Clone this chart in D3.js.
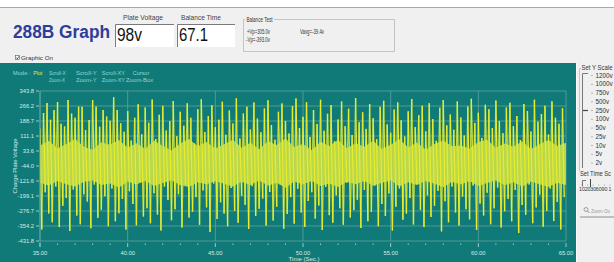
<!DOCTYPE html>
<html><head><meta charset="utf-8">
<script src="https://cdn.jsdelivr.net/npm/d3@7"></script>
<style>
html,body{margin:0;padding:0;overflow:hidden;background:#fff}
svg{display:block;font-family:"Liberation Sans",Arial,sans-serif}
</style>
</head><body>
<svg id="c" width="614" height="262"></svg>
<script>
// ---------- data ----------
const highs = [150,230,282,195,246,287,175,160,297,228,
205,263,262,142,194,297,263,159,246,212,
190,311,246,177,133,240,88,205,275,120,
258,180,300,96,221,268,140,187,292,110,
236,164,281,205,72,249,301,132,214,270,
156,195,288,118,243,176,306,98,228,262,
145,284,201,130,253,296,168,92,237,279,
188,124,266,305,152,210,286,106,245,173,
299,138,226,271,84,197,290,161,252,116,
308,182,234,148,276,203,94,262,293,171,
128,248,285,192,109,239,302,157,219,268,
136,280,199,87,257,297,166,222,143,289,
207,114,264,304,178,231,101,273,250,153,
295,189,126,259,283,162,215,90,277,240,
134,298,185,225,268,119,291,206,174,255];
const lows = [-372,-180,-290,-335,-150,-360,-250,-210,-380,-165,
-300,-345,-190,-228,-366,-140,-312,-270,-200,-355,
-160,-330,-288,-215,-372,-175,-240,-350,-130,-305,
-262,-340,-185,-295,-378,-150,-220,-325,-268,-190,
-362,-142,-310,-280,-205,-348,-170,-258,-385,-135,
-318,-232,-290,-355,-158,-275,-338,-198,-245,-370,
-148,-302,-265,-212,-352,-178,-326,-255,-140,-368,
-292,-205,-342,-162,-285,-360,-225,-180,-315,-248,
-375,-152,-298,-338,-195,-262,-348,-130,-310,-272,
-218,-365,-168,-330,-280,-145,-356,-240,-302,-186,
-378,-255,-160,-322,-290,-210,-346,-138,-272,-360,
-195,-308,-250,-172,-382,-226,-335,-150,-285,-352,
-202,-268,-320,-145,-375,-238,-300,-182,-345,-262,
-155,-362,-278,-214,-330,-168,-390,-246,-296,-140,
-340,-258,-192,-358,-276,-160,-328,-230,-372,-205];
const startTime = 35, cycle = 0.2;
// dense oscillation band (envelope every 0.5 s)
const bandTop = [62,85,48,70,95,55,40,78,66,90,52,74,44,88,60,36,72,96,58,80,46,68,92,50,76,42,84,64,98,54,70,38,82,60,90,48,74,56,86,44,66,94,52,78,40,70,88,58,62,46,80,92,50,72,56,84,44,68,90,60,76];
const bandBottom = [-130,-145,-122,-138,-150,-126,-118,-142,-134,-155,-124,-140,-120,-148,-132,-116,-144,-152,-128,-138,-122,-136,-150,-126,-142,-118,-146,-130,-156,-124,-140,-120,-148,-134,-152,-126,-138,-122,-146,-130,-118,-150,-128,-142,-120,-136,-154,-126,-140,-122,-148,-132,-118,-144,-128,-150,-124,-138,-152,-130,-142];
const bandStep = 0.5;
const yTicks = [343.8,266.2,188.7,111.1,33.6,-44.0,-121.6,-199.1,-276.7,-354.2,-431.8];
const xMajor = [35,40,45,50,55,60,65];
const xMinor = [36,37,38,39,41,42,43,44,46,47,48,49,51,52,53,54,56,57,58,59,61,62,63,64];
const modeTop = ["Scroll-X","Scroll-Y","Scroll-XY","Cursor"];
const modeBottom = ["Zoom-X","Zoom-Y","Zoom-XY","Zoom-Box"];
const yScaleLabels = ["1200v","1000v","750v","500v","250v","100v","50v","25v","10v","5v","2v"];
const timeScaleLabels = ["10","20","30","60","90","1"];

// ---------- drawing ----------
const svg = d3.select("#c");
const TEAL = "#0f7a77";

svg.append("rect").attr("x",0).attr("y",0).attr("width",614).attr("height",262).attr("fill","#fff");
svg.append("rect").attr("x",0).attr("y",8).attr("width",614).attr("height",55).attr("fill","#f0f0f0");
svg.append("line").attr("x1",0).attr("x2",614).attr("y1",7.5).attr("y2",7.5).attr("stroke","#a8a8a8");

function txt(g, s, x, y, size, opts={}) {
  const t = g.append("text").attr("x",x).attr("y",y).attr("font-size",size).text(s)
    .attr("fill",opts.fill||"#333");
  if (opts.weight) t.attr("font-weight",opts.weight);
  if (opts.anchor) t.attr("text-anchor",opts.anchor);
  if (opts.len) t.attr("textLength",opts.len).attr("lengthAdjust","spacingAndGlyphs");
  return t;
}

txt(svg,"288B Graph",13,37.5,17.5,{fill:"#2d3d9a",weight:"bold",len:97});
txt(svg,"Plate Voltage",123,19.5,8,{fill:"#444",len:40});
txt(svg,"Balance Time",181,19.5,8,{fill:"#444",len:40});

function box(x,y,w,h){
  svg.append("rect").attr("x",x).attr("y",y).attr("width",w).attr("height",h).attr("fill","#fff");
  svg.append("path").attr("d",`M${x+0.5},${y+h} V${y+0.5} H${x+w}`).attr("stroke","#7a7a7a").attr("fill","none");
}
box(115,24,59,23);
box(177,24,58,23);
txt(svg,"98v",117,41,18,{fill:"#111",len:25});
txt(svg,"67.1",179,41,18,{fill:"#111",len:29});

svg.append("rect").attr("x",243.5).attr("y",19.5).attr("width",151).attr("height",32).attr("fill","none").attr("stroke","#c4c4c4");
svg.append("rect").attr("x",245).attr("y",16).attr("width",29).attr("height",7).attr("fill","#f0f0f0");
txt(svg,"Balance Test",246.5,21.5,6.8,{fill:"#333",len:26});
txt(svg,"+Vp=305.0v",247,34,6.3,{fill:"#333",len:23});
txt(svg,"-Vp=-393.0v",246,41.5,6.3,{fill:"#333",len:24});
txt(svg,"Vavg=-39.4v",300,34,6.3,{fill:"#333",len:24});

svg.append("rect").attr("x",15.5).attr("y",55.5).attr("width",4).attr("height",4).attr("fill","#fff").attr("stroke","#555").attr("stroke-width",0.6);
svg.append("path").attr("d","M16.2,57.5 L17.3,58.8 L19,56.3").attr("stroke","#222").attr("stroke-width",0.7).attr("fill","none");
txt(svg,"Graphic On",21,60,6,{fill:"#333",len:32});

svg.append("rect").attr("x",0).attr("y",63).attr("width",576).attr("height",199).attr("fill",TEAL);

txt(svg,"Mode :",12.7,75,6,{fill:"#8fd8d4",len:18});
txt(svg,"Plot",33.3,75,6,{fill:"#e8e83a",len:9});
const modeX = [49,76,101.7,132.7];
const modeW = [16.7,20.7,23.3,16.6];
modeTop.forEach((s,i)=>txt(svg,s,modeX[i],75,6,{fill:"#8fd8d4",len:modeW[i]}));
const modeX2 = [49,76,101.7,126];
const modeW2 = [16,20.7,23.3,27.3];
modeBottom.forEach((s,i)=>txt(svg,s,modeX2[i],81.5,6,{fill:"#8fd8d4",len:modeW2[i]}));

const x = d3.scaleLinear().domain([35,65]).range([40,566]);
const y = d3.scaleLinear().domain([-431.8,343.8]).range([241,91]);

const grid = svg.append("g");
grid.selectAll("line.h").data(yTicks).join("line").attr("class","h")
  .attr("x1",40).attr("x2",566).attr("y1",d=>y(d)).attr("y2",d=>y(d))
  .attr("stroke","#5fa3a0").attr("stroke-width",0.8);
grid.selectAll("line.v").data(xMajor).join("line").attr("class","v")
  .attr("x1",d=>x(d)).attr("x2",d=>x(d)).attr("y1",91).attr("y2",241)
  .attr("stroke","#5fa3a0").attr("stroke-width",0.8);

svg.append("clipPath").attr("id","pc").append("rect").attr("x",40).attr("y",88).attr("width",526).attr("height",154);
const dg = svg.append("g").attr("clip-path","url(#pc)");
const area = d3.area().x((d,i)=>x(startTime+i*bandStep)).y0((d,i)=>y(bandBottom[i])).y1(d=>y(d));
dg.append("path").datum(bandTop).attr("d",area).attr("fill","#c9de48").attr("opacity",0.9);
const down = highs.map((h,k)=>[[startTime+k*cycle,h],[startTime+k*cycle+cycle/2,lows[k]]]);
const up = lows.slice(0,-1).map((l,k)=>[[startTime+k*cycle+cycle/2,l],[startTime+(k+1)*cycle,highs[k+1]]]);
const line = d3.line().x(d=>x(d[0])).y(d=>y(d[1]));
dg.selectAll("path.u").data(up).join("path").attr("class","u").attr("d",line)
  .attr("stroke","#bcd94e").attr("stroke-width",1.3).attr("fill","none");
dg.selectAll("path.d").data(down).join("path").attr("class","d").attr("d",line)
  .attr("stroke","#e6ec2e").attr("stroke-width",1.3).attr("fill","none");

const ax = svg.append("g");
ax.selectAll("text.yl").data(yTicks).join("text").attr("class","yl")
  .attr("x",34).attr("y",d=>y(d)+2).attr("text-anchor","end").attr("font-size",5.8)
  .attr("fill","#d6ecea").text(d=>d.toFixed(1));
ax.selectAll("line.yt").data(yTicks).join("line").attr("class","yt")
  .attr("x1",36).attr("x2",39).attr("y1",d=>y(d)).attr("y2",d=>y(d)).attr("stroke","#d6ecea").attr("stroke-width",0.7);
ax.append("line").attr("x1",40).attr("x2",40).attr("y1",91).attr("y2",247).attr("stroke","#6aa9a6").attr("stroke-width",0.8);
ax.selectAll("line.xt").data(xMajor).join("line").attr("class","xt")
  .attr("x1",d=>x(d)).attr("x2",d=>x(d)).attr("y1",243).attr("y2",247).attr("stroke","#d6ecea").attr("stroke-width",0.7);
ax.selectAll("line.xm").data(xMinor).join("line").attr("class","xm")
  .attr("x1",d=>x(d)).attr("x2",d=>x(d)).attr("y1",243.5).attr("y2",245).attr("stroke","#d6ecea").attr("stroke-width",0.7);
ax.selectAll("text.xl").data(xMajor).join("text").attr("class","xl")
  .attr("x",d=>x(d)).attr("y",254.5).attr("text-anchor","middle").attr("font-size",5.8)
  .attr("fill","#d6ecea").text(d=>d.toFixed(2));
txt(svg,"Time (Sec.)",304,261,6,{fill:"#d6ecea",anchor:"middle"});
svg.append("text").attr("transform","translate(17,166) rotate(-90)").attr("text-anchor","middle")
  .attr("font-size",5.8).attr("fill","#d6ecea").text("Charge Plate Voltage");

svg.append("rect").attr("x",577).attr("y",63).attr("width",37).attr("height",199).attr("fill","#f0f0f0");
svg.append("line").attr("x1",576.5).attr("x2",576.5).attr("y1",63).attr("y2",262).attr("stroke","#fff");
svg.append("path").attr("d","M614,68.5 H579.5 V171").attr("stroke","#c4c4c4").attr("fill","none");
svg.append("rect").attr("x",581).attr("y",64).attr("width",33).attr("height",7).attr("fill","#f0f0f0");
txt(svg,"Set Y Scale",581.5,69.5,6.5,{fill:"#333",len:31});
const ys = d3.scalePoint().domain(yScaleLabels).range([77,164.5]);
svg.append("path").attr("d","M588,73.5 H582.5 V168").attr("stroke","#777").attr("fill","none");
svg.append("path").attr("d","M583,110.5 H588").attr("stroke","#444").attr("stroke-width",1.2);
svg.selectAll("circle.yd").data(yScaleLabels).join("circle").attr("class","yd")
  .attr("cx",592).attr("cy",d=>ys(d)-1.5).attr("r",0.5).attr("fill","#555");
svg.selectAll("text.ysl").data(yScaleLabels).join("text").attr("class","ysl")
  .attr("x",595.5).attr("y",d=>ys(d)+0.5).attr("font-size",6.3).attr("fill","#333").text(d=>d);
txt(svg,"Set Time Sc",580,176,6.5,{fill:"#333",len:31});
svg.append("path").attr("d","M586,180.5 H582.5 V186.5").attr("stroke","#777").attr("fill","none");
svg.append("path").attr("d","M590.5,179 V187").attr("stroke","#444").attr("stroke-width",1);
const ts = d3.scalePoint().domain(timeScaleLabels).range([582,610]);
svg.selectAll("circle.td").data(timeScaleLabels).join("circle").attr("class","td")
  .attr("cx",d=>ts(d)).attr("cy",185).attr("r",0.45).attr("fill","#555");
svg.selectAll("text.tsl").data(timeScaleLabels).join("text").attr("class","tsl")
  .attr("x",d=>ts(d)).attr("y",191).attr("text-anchor","middle").attr("font-size",5.3).attr("fill","#333").text(d=>d);
svg.append("circle").attr("cx",586).attr("cy",209.5).attr("r",2).attr("fill","none").attr("stroke","#888").attr("stroke-width",0.8);
svg.append("line").attr("x1",587.5).attr("y1",211).attr("x2",589.5).attr("y2",213).attr("stroke","#888").attr("stroke-width",0.9);
txt(svg,"Zoom Ou",591,213,5.3,{fill:"#999",len:19});
svg.append("line").attr("x1",580).attr("x2",614).attr("y1",217).attr("y2",217).attr("stroke","#777").attr("stroke-width",0.8);
</script>
</body></html>
